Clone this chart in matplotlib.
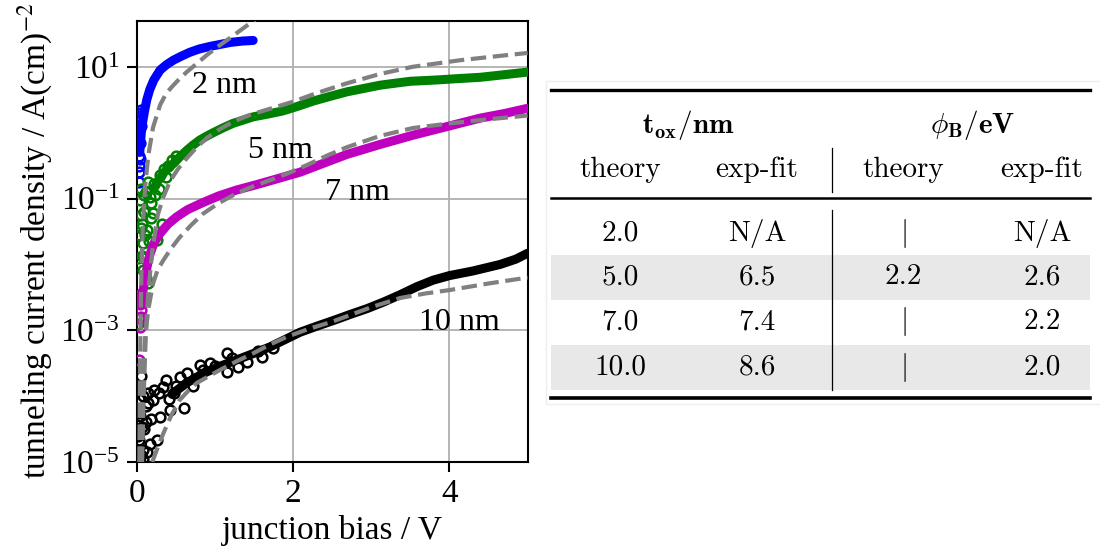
import matplotlib
matplotlib.use('Agg')
import matplotlib.pyplot as plt
import numpy as np

plt.rcParams['font.family'] = ['Liberation Serif', 'DejaVu Serif']
plt.rcParams['mathtext.fontset'] = 'stix'
plt.rcParams['font.size'] = 24

# measured J-V curves (bias in V, log10 of current density)
v_2nm = [0.04, 0.06, 0.08, 0.10, 0.13, 0.17, 0.22, 0.30, 0.38, 0.47, 0.57, 0.68, 0.80, 0.94, 1.07, 1.20, 1.35, 1.49]
logj_2nm = [-0.3, 0.0, 0.18, 0.32, 0.50, 0.66, 0.80, 0.95, 1.03, 1.10, 1.16, 1.22, 1.27, 1.31, 1.34, 1.37, 1.39, 1.40]
v_5nm = [0.22, 0.27, 0.34, 0.40, 0.47, 0.55, 0.64, 0.72, 0.81, 0.90, 0.98, 1.10, 1.23, 1.36, 1.49, 1.67,
         1.87, 2.06, 2.26, 2.47, 2.69, 2.90, 3.11, 3.30, 3.50, 3.84, 4.10, 4.39, 4.70, 5.0]
logj_5nm = [-0.85, -0.74, -0.62, -0.54, -0.47, -0.37, -0.27, -0.19, -0.11, -0.05, 0.0, 0.07, 0.14, 0.19, 0.24, 0.28,
            0.33, 0.40, 0.48, 0.55, 0.62, 0.67, 0.72, 0.75, 0.78, 0.80, 0.82, 0.84, 0.88, 0.92]
v_7nm = [0.06, 0.08, 0.11, 0.14, 0.17, 0.22, 0.30, 0.40, 0.51, 0.65, 0.85, 1.05, 1.28, 1.50, 1.71, 2.09,
         2.40, 2.69, 3.11, 3.53, 3.96, 4.39, 4.70, 5.0]
logj_7nm = [-2.6, -2.42, -2.2, -2.0, -1.85, -1.68, -1.53, -1.39, -1.28, -1.17, -1.06, -0.96, -0.87, -0.80, -0.73, -0.60,
            -0.46, -0.33, -0.18, -0.04, 0.09, 0.22, 0.29, 0.37]
v_10nm = [0.45, 0.55, 0.64, 0.77, 0.90, 1.08, 1.28, 1.50, 1.71, 1.90, 2.09, 2.30, 2.52, 2.73, 2.95, 3.16,
          3.37, 3.58, 3.79, 4.0, 4.30, 4.65, 4.85, 5.0]
logj_10nm = [-3.97, -3.88, -3.8, -3.71, -3.63, -3.54, -3.45, -3.35, -3.25, -3.14, -3.03, -2.94, -2.85, -2.76, -2.67, -2.57,
             -2.46, -2.34, -2.24, -2.17, -2.10, -2.0, -1.92, -1.83]

# noisy low-bias points
v_2nm_low = [0.03, 0.035, 0.03, 0.04, 0.035, 0.045, 0.05, 0.055, 0.06, 0.045, 0.03, 0.04]
logj_2nm_low = [-0.75, -0.6, -0.35, -0.15, 0.05, 0.2, 0.3, 0.1, 0.35, -0.4, -0.5, 0.25]
v_5nm_low = [0.02, 0.03, 0.02, 0.03, 0.04, 0.05, 0.05, 0.07, 0.08, 0.07, 0.08, 0.12, 0.15, 0.10, 0.13,
             0.21, 0.32, 0.19, 0.26, 0.17, 0.10, 0.12, 0.24, 0.28, 0.14, 0.06, 0.18, 0.22, 0.30, 0.35,
             0.40, 0.45, 0.50, 0.38, 0.16, 0.09, 0.11]
logj_5nm_low = [-2.9, -2.5, -1.9, -1.55, -1.03, -0.85, -1.25, -1.38, -1.68, -1.88, -2.08, -2.2, -2.29, -1.9, -1.48,
                -1.22, -1.38, -1.07, -1.63, -0.98, -1.2, -0.9, -0.95, -0.85, -0.75, -1.45, -1.3, -0.78, -0.65, -0.55,
                -0.5, -0.42, -0.36, -0.68, -1.65, -0.95, -1.55]
v_7nm_low = [0.03, 0.04, 0.05, 0.04, 0.05, 0.03, 0.06]
logj_7nm_low = [-3.45, -2.95, -2.80, -2.60, -2.45, -2.82, -2.7]
v_10nm_low = [0.02, 0.03, 0.08, 0.03, 0.07, 0.03, 0.08, 0.17, 0.26, 0.21, 0.34, 0.30, 0.43, 0.60,
              0.55, 0.81, 0.94, 1.15, 1.15, 1.41, 1.75, 0.12, 0.05, 0.15, 0.02, 0.04, 0.05, 0.10,
              0.12, 0.15, 0.18, 0.22, 0.28, 0.38, 0.42, 0.50, 0.48, 0.65, 0.72, 0.85, 1.0, 1.22,
              1.30, 1.55, 1.60, 0.08, 0.13, 0.04]
logj_10nm_low = [-3.9, -4.05, -4.0, -4.26, -4.47, -4.67, -4.82, -4.72, -4.67, -4.06, -3.86, -4.31, -4.21, -4.18,
                 -3.71, -3.53, -3.50, -3.64, -3.35, -3.48, -3.27, -4.4, -4.9, -4.1, -4.6, -4.3, -3.7, -4.5,
                 -4.15, -3.95, -4.35, -3.9, -3.95, -3.75, -4.05, -3.85, -3.95, -3.65, -3.85, -3.6, -3.55, -3.42,
                 -3.56, -3.32, -3.4, -4.95, -4.85, -5.0]

# theoretical tunneling fits
vfit_2nm = [0.035, 0.045, 0.06, 0.08, 0.11, 0.15, 0.21, 0.30, 0.38, 0.47, 0.55, 0.64, 0.77, 0.90, 1.02,
            1.15, 1.30, 1.45, 1.55]
logfit_2nm = [-5.0, -3.4, -2.2, -1.4, -0.8, -0.34, 0.08, 0.42, 0.60, 0.72, 0.82, 0.92, 1.05, 1.18, 1.29,
              1.40, 1.53, 1.66, 1.75]
vfit_5nm = [0.07, 0.09, 0.12, 0.15, 0.20, 0.27, 0.34, 0.43, 0.53, 0.64, 0.77, 0.90, 1.06, 1.24, 1.45, 1.67,
            2.0, 2.30, 2.69, 3.11, 3.53, 4.14, 4.60, 5.0]
logfit_5nm = [-5.0, -4.0, -3.0, -2.4, -1.8, -1.25, -0.98, -0.73, -0.55, -0.39, -0.22, -0.08, 0.05, 0.17, 0.27, 0.35,
              0.47, 0.60, 0.75, 0.89, 1.0, 1.1, 1.16, 1.21]
vfit_7nm = [0.05, 0.07, 0.09, 0.11, 0.15, 0.21, 0.27, 0.34, 0.44, 0.55, 0.70, 0.85, 1.05, 1.28, 1.50, 1.71,
            1.95, 2.20, 2.45, 2.69, 3.11, 3.53, 4.0, 4.39, 5.0]
logfit_7nm = [-5.0, -4.1, -3.5, -3.1, -2.68, -2.29, -2.08, -1.94, -1.76, -1.59, -1.4, -1.23, -1.07, -0.92, -0.81, -0.72,
              -0.61, -0.48, -0.34, -0.22, -0.05, 0.07, 0.14, 0.19, 0.26]
vfit_10nm = [0.20, 0.27, 0.34, 0.44, 0.55, 0.66, 0.77, 0.92, 1.07, 1.28, 1.49, 1.70, 1.92, 2.20, 2.50, 2.75,
             3.0, 3.37, 3.70, 4.0, 4.50, 5.0]
logfit_10nm = [-5.0, -4.78, -4.57, -4.3, -4.06, -3.92, -3.8, -3.7, -3.6, -3.47, -3.35, -3.22, -3.1, -2.98, -2.87, -2.76,
               -2.65, -2.51, -2.44, -2.39, -2.29, -2.2]

thickness = ['2 nm', '5 nm', '7 nm', '10 nm']
colors = ['b', 'g', 'm', 'k']

# table contents
tox_theory = ['2.0', '5.0', '7.0', '10.0']
tox_fit = ['N/A', '6.5', '7.4', '8.6']
phi_theory = ['|', '2.2', '|', '|']
phi_fit = ['N/A', '2.6', '2.2', '2.0']

fig = plt.figure(figsize=(11, 5.47), dpi=100)
ax = fig.add_axes([0.1242, 0.1554, 0.3555, 0.8068])

bands = [(v_2nm, logj_2nm), (v_5nm, logj_5nm), (v_7nm, logj_7nm), (v_10nm, logj_10nm)]
lows = [(v_2nm_low, logj_2nm_low), (v_5nm_low, logj_5nm_low), (v_7nm_low, logj_7nm_low), (v_10nm_low, logj_10nm_low)]
fits = [(vfit_2nm, logfit_2nm), (vfit_5nm, logfit_5nm), (vfit_7nm, logfit_7nm), (vfit_10nm, logfit_10nm)]

for (v, lj), (vl, ljl), c in zip(bands, lows, colors):
    ax.plot(v, 10 ** np.array(lj), '-', color=c, lw=6.5, solid_capstyle='round',
            solid_joinstyle='round', zorder=3)
    ax.plot(vl, 10 ** np.array(ljl), 'o', color=c, mfc='none', ms=7, mew=1.8, zorder=3)

for v, lj in fits:
    ax.plot(v, 10 ** np.array(lj), '--', color='gray', lw=3, zorder=4)

ax.set_yscale('log')
ax.set_xlim(0, 5)
ax.set_ylim(1e-5, 10 ** 1.70)
ax.set_xticks([0, 2, 4])
ax.set_yticks([1e-5, 1e-3, 1e-1, 1e1])
ax.yaxis.set_minor_locator(matplotlib.ticker.NullLocator())
ax.grid(True, color='#b0b0b0', lw=1.3)
ax.set_axisbelow(True)
for s in ax.spines.values():
    s.set_linewidth(1.5)
ax.tick_params(length=7, width=1.5, pad=5, labelsize=24)

ax.set_xlabel('junction bias / V', fontsize=24, labelpad=4)
ax.set_ylabel('tunneling current density / A(cm)$^{-2}$', fontsize=24, labelpad=4)

# curve labels
ax.text(1.12, 10 ** 0.60, thickness[0], ha='center', va='baseline', fontsize=23, zorder=5)
ax.text(1.43, 10 ** -0.385, thickness[1], ha='left', va='baseline', fontsize=23, zorder=5)
ax.text(2.82, 10 ** -1.02, thickness[2], ha='center', va='baseline', fontsize=23, zorder=5)
ax.text(4.13, 10 ** -3.0, thickness[3], ha='center', va='baseline', fontsize=23, zorder=5)

# parameter table, laid out in pixel coordinates on an overlay
tab = fig.add_axes([0, 0, 1, 1])
tab.set_xlim(0, 1100)
tab.set_ylim(547, 0)
tab.axis('off')

x0, x1 = 551, 1090
cols = [620, 757, 903, 1042]
vline = 832
row_y = [233, 277, 322, 367]
row_h = 45
tfs = 21

tab.add_patch(plt.Rectangle((546, 81), 560, 323, fill=False, ec='#eeeeee', lw=1))
for i, y in enumerate(row_y):
    if i % 2 == 1:
        tab.add_patch(plt.Rectangle((x0, y - row_h / 2), x1 - x0, row_h, color='#e8e8e8', lw=0))

tab.plot([x0, x1], [90, 90], color='k', lw=2.4)
tab.plot([x0, x1], [198, 198], color='k', lw=1.8)
tab.plot([x0, x1], [398, 398], color='k', lw=2.6)
tab.plot([vline, vline], [148, 192], color='k', lw=0.9)
tab.plot([vline, vline], [210, 390], color='k', lw=0.9)

tab.text((cols[0] + cols[1]) / 2, 125, r'$\mathbf{t_{ox}/nm}$', ha='center', va='center',
         fontsize=tfs, math_fontfamily='cm')
tab.text((cols[2] + cols[3]) / 2, 125, r'$\phi_{\mathbf{B}}/\mathbf{eV}$', ha='center', va='center',
         fontsize=tfs, math_fontfamily='cm')
for x, h in zip(cols, ['theory', 'exp-fit', 'theory', 'exp-fit']):
    tab.text(x, 170, h, ha='center', va='center', fontsize=tfs, family='cmr10')

for i, y in enumerate(row_y):
    for x, col in zip(cols, [tox_theory, tox_fit, phi_theory, phi_fit]):
        s = col[i]
        if s == '|':
            tab.text(x, y, r'$|$', ha='center', va='center', fontsize=tfs, math_fontfamily='cm')
        else:
            tab.text(x, y, s, ha='center', va='center', fontsize=tfs, family='cmr10')

plt.savefig('out.png', dpi=100)
